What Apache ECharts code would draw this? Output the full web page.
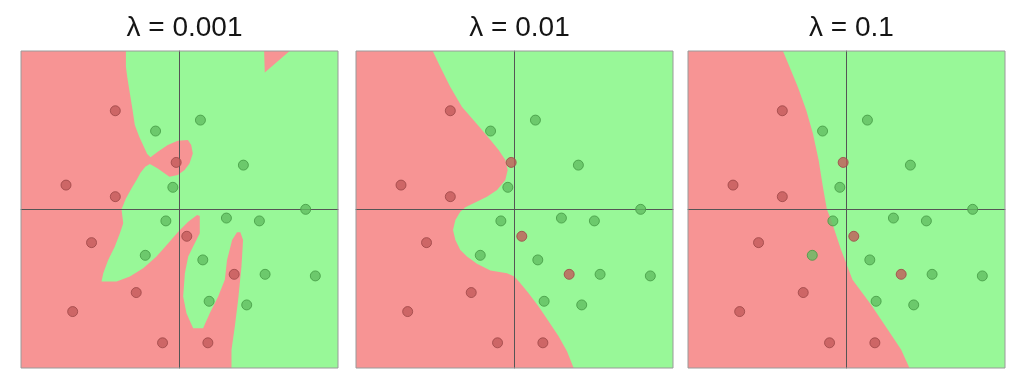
<!DOCTYPE html>
<html><head><meta charset="utf-8">
<script src="https://cdn.jsdelivr.net/npm/echarts@6/dist/echarts.min.js"></script>
<style>html,body{margin:0;padding:0;background:#fff}#c{width:1024px;height:385px}</style>
</head><body><div id="c"></div><script>
// ---- data (x, y in plot units, axes cross at 0, range -100..100) ----
const TITLES = ['λ = 0.001', 'λ = 0.01', 'λ = 0.1'];

const RED_POINTS = [
  [-40.5, 62.3], [-2.1, 29.7], [-71.6, 15.4], [-40.5, 8.1], [-55.5, -20.9],
  [4.6, -16.9], [34.5, -40.9], [-27.3, -52.4], [-67.4, -64.4], [-10.7, -84.1], [17.9, -84.1]
];
const GREEN_POINTS = [
  [13.2, 56.4], [-15.1, 49.5], [40.3, 28.0], [-4.2, 14.0], [79.6, 0.1],
  [-8.6, -7.2], [29.6, -5.4], [50.4, -7.2], [-21.6, -28.9], [14.7, -31.8],
  [54.0, -40.9], [85.7, -41.9], [18.7, -57.9], [42.4, -60.2]
];

// green decision region outlines (the rest of each panel is red)
const GREEN_REGION_0001 = [
  [-33.8, 100], [53.4, 100], [53.8, 86.4], [69.5, 100], [100, 100], [100, -100],
  [32.8, -100], [32.8, -88.6], [34.9, -73.8], [37.0, -57.0], [39.1, -36.0], [40.1, -19.2],
  [38.4, -14.4], [36.3, -14.4], [33.2, -19.2], [30.0, -31.8], [28.6, -44.4], [24.4, -54.9],
  [19.1, -65.4], [14.9, -74.9], [8.6, -74.9], [4.4, -65.4], [2.3, -54.9], [3.4, -40.2],
  [5.5, -29.7], [8.6, -23.4], [12.8, -15.0], [12.8, -4.1], [11.1, -3.5], [5.5, -7.7],
  [-0.8, -14.0], [-7.1, -21.3], [-14.5, -29.7], [-22.9, -37.1], [-31.3, -42.3], [-39.7, -45.5],
  [-49.2, -45.5], [-48.1, -40.2], [-45.0, -31.8], [-40.8, -23.4], [-37.6, -15.0], [-35.5, -8.7],
  [-36.6, 0.1], [-33.8, 7.0], [-30.3, 13.3], [-27.1, 18.6], [-24.6, 23.2], [-21.6, 27.0],
  [-18.7, 28.7], [-13.7, 25.9], [-9.5, 22.8], [-6.3, 20.7], [-1.1, 21.7], [3.2, 24.9],
  [6.3, 29.1], [8.4, 35.4], [7.4, 40.7], [5.3, 43.8], [-1.1, 43.4], [-7.4, 40.7],
  [-13.7, 36.4], [-18.3, 32.9], [-20.4, 35.0], [-22.5, 39.6], [-25.4, 45.9], [-28.2, 53.3],
  [-29.6, 62.7], [-31.3, 73.2], [-33.0, 83.7], [-33.8, 90.0]
];
const GREEN_REGION_001 = [
  [-51.6, 100], [100, 100], [100, -100], [37.3, -100], [33.1, -89.5], [27.9, -80.1],
  [21.6, -70.6], [15.2, -61.2], [8.9, -52.8], [3.7, -46.5], [-0.1, -42.3], [-4.7, -40.2],
  [-15.2, -38.5], [-23.7, -34.3], [-30.0, -29.7], [-34.2, -25.5], [-37.3, -19.2], [-38.8, -12.9],
  [-37.3, -6.6], [-34.2, -1.4], [-31.0, 1.4], [-25.8, 3.9], [-17.4, 8.1], [-11.0, 12.3],
  [-5.8, 18.6], [-4.3, 24.9], [-5.8, 31.2], [-10.0, 37.5], [-15.2, 43.8], [-20.5, 50.1],
  [-25.8, 56.3], [-33.1, 64.7], [-40.5, 77.3], [-46.8, 89.9]
];
const GREEN_REGION_01 = [
  [-40.1, 100], [100, 100], [100, -100], [39.7, -100], [34.5, -88.5], [26.1, -75.9],
  [15.5, -60.1], [3.8, -44.4], [-3.4, -25.5], [-9.7, -6.6], [-12.4, 0.1], [-14.9, 14.4],
  [-17.6, 31.2], [-21.2, 48.0], [-25.4, 62.6], [-30.7, 77.3], [-35.9, 89.9]
];
const REGIONS = [GREEN_REGION_0001, GREEN_REGION_001, GREEN_REGION_01];
const AXIS_MIN = -100, AXIS_MAX = 100;

// ---- layout & style ----
const PANEL_LEFT = [21, 356, 688];
const PANEL_TOP = 51;
const PANEL_SIZE = 317;
const RED_BG = '#f79494';
const GREEN_BG = '#98f898';

const grids = [], xAxes = [], yAxes = [], series = [], titles = [];
for (let i = 0; i < 3; i++) {
  grids.push({left: PANEL_LEFT[i], top: PANEL_TOP, width: PANEL_SIZE, height: PANEL_SIZE,
    show: true, backgroundColor: RED_BG, borderWidth: 0});
  const ax = {
    gridIndex: i, type: 'value', min: AXIS_MIN, max: AXIS_MAX, z: 3,
    axisLine: {show: true, onZero: true, lineStyle: {color: '#555555', width: 1}},
    axisTick: {show: false}, axisLabel: {show: false}, splitLine: {show: false}
  };
  xAxes.push(Object.assign({}, ax));
  yAxes.push(Object.assign({}, ax));
  titles.push({text: TITLES[i], left: PANEL_LEFT[i] + PANEL_SIZE / 2, top: 9, textAlign: 'center',
    textStyle: {fontFamily: 'Liberation Sans, Arial, sans-serif', fontSize: 28, fontWeight: 'normal', color: '#151515'}});
  const region = REGIONS[i];
  series.push({
    type: 'custom', xAxisIndex: i, yAxisIndex: i, silent: true, z: 1,
    data: [[0, 0]],
    renderItem: (p, api) => ({
      type: 'polygon',
      shape: {points: region.map(pt => api.coord(pt))},
      style: {fill: GREEN_BG, stroke: null}
    })
  });
  series.push({
    type: 'custom', xAxisIndex: i, yAxisIndex: i, silent: true, z: 4,
    data: [[0, 0]],
    renderItem: (p, api) => {
      const a = api.coord([AXIS_MIN, AXIS_MAX]), b = api.coord([AXIS_MAX, AXIS_MIN]);
      return {type: 'rect', shape: {x: a[0], y: a[1], width: b[0] - a[0], height: b[1] - a[1]},
        style: {fill: null, stroke: '#9a9a9a', lineWidth: 1}};
    }
  });
  series.push({type: 'scatter', xAxisIndex: i, yAxisIndex: i, data: RED_POINTS, symbolSize: 10, z: 5,
    itemStyle: {color: '#c25a5a', borderColor: '#9c4646', borderWidth: 1}});
  series.push({type: 'scatter', xAxisIndex: i, yAxisIndex: i, data: GREEN_POINTS, symbolSize: 10, z: 5,
    itemStyle: {color: '#62bd62', borderColor: '#449a44', borderWidth: 1}});
}

const chart = echarts.init(document.getElementById('c'));
chart.setOption({animation: false, title: titles, grid: grids, xAxis: xAxes, yAxis: yAxes, series: series});
</script></body></html>
